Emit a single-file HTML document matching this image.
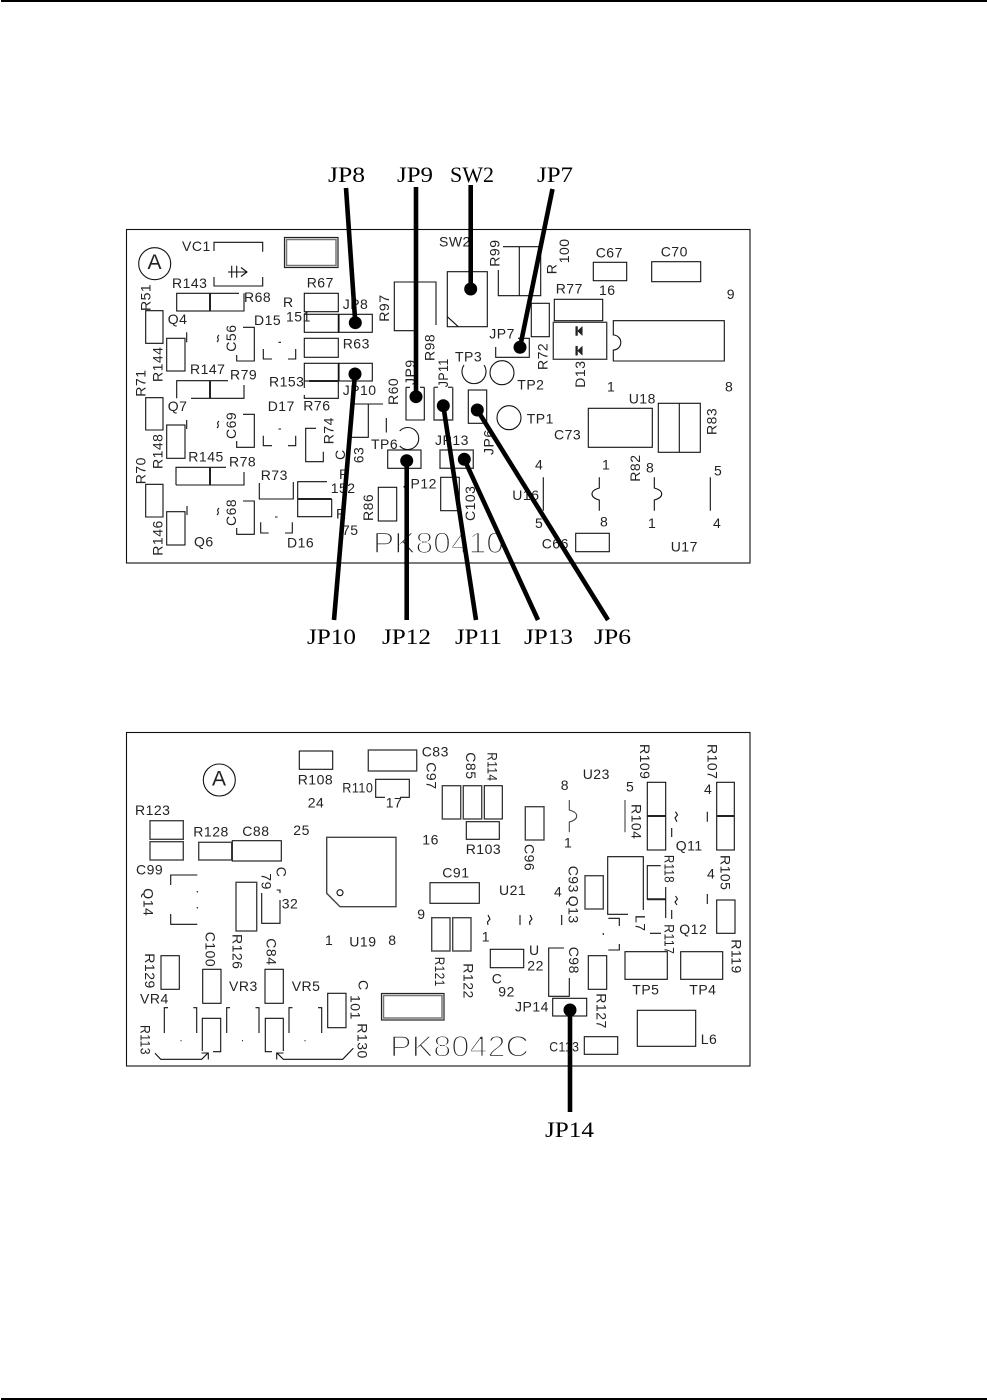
<!DOCTYPE html>
<html><head><meta charset="utf-8"><style>
html,body{margin:0;padding:0;background:#fff}
svg{display:block}
.c{fill:none;stroke:#111;stroke-width:1.1}
.g{fill:none;stroke:#444;stroke-width:1.4}
.t text{font-family:"Liberation Sans",sans-serif;font-size:14px;letter-spacing:.5px;fill:#222}
.s text{font-family:"Liberation Serif",serif;font-size:22px;fill:#000;font-weight:normal}
.b text{font-family:"Liberation Sans",sans-serif;font-size:30px;fill:#222;stroke:#fff;stroke-width:1.5}
.l{stroke:#000;stroke-width:4.6;fill:none}
</style></head><body>
<svg width="987" height="1400" viewBox="0 0 987 1400" xmlns="http://www.w3.org/2000/svg">
<rect x="1" y="0" width="986" height="2" fill="#000"/>
<rect x="1" y="1398" width="986" height="2" fill="#000"/>

<g class="b"><text x="373" y="553" textLength="131" lengthAdjust="spacingAndGlyphs">PK80410</text></g>
<g class="b"><text x="390" y="1056.7" textLength="139" lengthAdjust="spacingAndGlyphs">PK8042C</text></g>

<!-- ===== TOP BOARD ===== -->
<g class="c">
<rect x="126.5" y="229.5" width="623.5" height="333.5"/>
<circle cx="154.7" cy="263.7" r="16"/>
<path d="M214,251V242.3H262.7V251.7M214,277V286H262.7V277"/>
<path d="M231.7,265.7V277.7M236.7,265.7V277.7M228,272H247M241,267.5L247,272L241,276.5"/>
<rect x="176.7" y="293.3" width="33.3" height="17.7"/>
<path d="M210,293.3H239M210,311H244V293.3"/>
<path d="M155,310.7H145.7V343.3H163V310.7H155"/>
<rect x="166.7" y="338.3" width="18.3" height="32.7"/>
<path d="M186.7,332.3V342.3"/>
<path d="M243,327.3H254.3V361H236.7V355M219,335q-2,2 -1,3.5q1,1.5 -1,3.5"/>
<path d="M263.3,349V359H272M288,359H295.7V349M278.5,342.3H281"/>
<rect x="304.3" y="293.3" width="34" height="18.4"/>
<rect x="304.3" y="314.3" width="34" height="18"/>
<rect x="339" y="314.3" width="33.3" height="18"/>
<path d="M436,325V282H394.3V330.7H416"/>
<rect x="304.3" y="338.3" width="34" height="19"/>
<rect x="304.3" y="363.3" width="34" height="17.7"/>
<rect x="339" y="363.3" width="33.3" height="17.7"/>
<path d="M338.3,381V398.3H304.3V395M304.3,381V388"/>
<path d="M176.7,398.3V380.7H228M244,385V398.3H191"/>
<path d="M155,397.7H145.7V430H163V397.7H155"/>
<rect x="166.7" y="425" width="18.3" height="33.3"/>
<path d="M186.7,420V429"/>
<path d="M243,414.3H254.3V447.3H236.7V441M219,421q-2,2 -1,3.5q1,1.5 -1,3.5"/>
<path d="M263.3,435.7V445.7H272M288,445.7H295.7V435.7M278.5,429H281"/>
<path d="M316,428.3H305.7V461.7H323.3V451.7"/>
<path d="M353,404H383M368.3,404V437.3H350M386.3,418V432.5"/>
<path d="M399.7,431A11,11 0 1 1 399.7,446"/>
<rect x="387.7" y="450" width="33.3" height="18.3"/>
<path d="M176,485V467.3H226M244,472V485H176M210,467.3V485"/>
<path d="M155,484.3H145.7V517H163V484.3H155"/>
<rect x="166.7" y="511.7" width="18.3" height="33.3"/>
<path d="M187,506V515"/>
<path d="M243,501H254.3V534.3H236.7V528M219,508q-2,2 -1,3.5q1,1.5 -1,3.5"/>
<path d="M260.7,522.3V533H268.7M285,533H292.3V522.3M275,517H277.5"/>
<path d="M259.3,483V499H293.3V482"/>
<path d="M327,481.7H297.7V516.7H331.7V499"/>
<rect x="378.3" y="487.3" width="18.4" height="33.7"/>
<path d="M406,387.3V420H424.3V387.3M406,387.3H410M424.3,387.3H420"/>
<path class="g" d="M434,387.3V420H452.7V387.3M434,387.3H438M452.7,387.3H448"/>
<rect x="468.3" y="390" width="18.4" height="33.3"/>
<rect class="g" x="440" y="450" width="33.3" height="18.3"/>
<rect x="440.7" y="477.3" width="18.6" height="33.4"/>
<path d="M498.3,270V295.7H540.7V246.7H503M519.3,246.7V295.7"/>
<rect x="447.3" y="271.7" width="40" height="55"/>
<path d="M447.3,316.7L458.3,326.7"/>
<rect x="593.3" y="262.3" width="33.4" height="18.4"/>
<rect x="651.7" y="261.7" width="49" height="20"/>
<rect x="554.3" y="299.3" width="48.4" height="21.4"/>
<rect x="531.3" y="303.3" width="18" height="33.4"/>
<path d="M495.7,347V357.3H529.3V338.3H518"/>
<rect class="g" x="553.3" y="322.3" width="53.4" height="37"/>
<path d="M613.3,320.7H724.3V361H613.3V350A7.5,7.5 0 0 0 613.3,335Z"/>
<rect x="588.3" y="408.3" width="64" height="39"/>
<rect x="658.3" y="403.3" width="42" height="49"/>
<path d="M679.3,403.3V452.3"/>
<path d="M464,365A12,12 0 1 0 484,365"/>
<circle cx="502" cy="372.7" r="12"/>
<circle cx="509" cy="417.7" r="12"/>
<path d="M543.3,477.3V510.7M710.3,477.3V510.7"/>
<path d="M599.3,477.3V488Q592,490 592,494Q592,498 599.3,500V510.7"/>
<path d="M654.3,477.3V488Q661.7,490 661.7,494Q661.7,498 654.3,500V510.7"/>
<rect x="575.7" y="533.3" width="33.6" height="18.4"/>
</g>
<g fill="none" stroke="#222">
<rect x="284.5" y="237.5" width="53.5" height="30" stroke-width="1.2"/>
<rect x="286.5" y="239.5" width="49.5" height="26" stroke="#777" stroke-width="1.5"/>
<path d="M210,293.3V311M210,380.7V398.3M210,467.3V485" stroke-width="2"/>
<path d="M309,381H338.3M297.7,499H331.7" stroke-width="2"/>
</g>
<path d="M582.3,326.5V335.5L577.5,331ZM575.7,326.5H577.5V335.5H575.7ZM582.3,346.2V355.2L577.5,350.7ZM575.7,346.2H577.5V355.2H575.7Z" fill="#222" stroke="#222" stroke-width=".5"/>

<g class="t">
<text x="182" y="251">VC1</text><text x="172" y="288">R143</text><text x="244" y="302">R68</text>
<text transform="translate(150.7,311) rotate(-90)">R51</text>
<text x="167.7" y="324">Q4</text>
<text transform="translate(162.7,382) rotate(-90)">R144</text>
<text transform="translate(236,351.7) rotate(-90)">C56</text>
<text x="254" y="325">D15</text><text x="306.7" y="287.7">R67</text>
<text x="283" y="307">R</text><text x="286" y="321.7">151</text><text x="342.7" y="309">JP8</text>
<text transform="translate(389,321.7) rotate(-90)">R97</text>
<text transform="translate(434.3,361) rotate(-90)">R98</text>
<text x="342.7" y="348.3">R63</text><text x="269" y="386.7">R153</text><text x="342.7" y="395">JP10</text>
<text x="303.3" y="410.3">R76</text><text x="267.7" y="411">D17</text>
<text x="190" y="374">R147</text><text x="230" y="379.3">R79</text>
<text transform="translate(145.7,396.7) rotate(-90)">R71</text>
<text transform="translate(162.7,469) rotate(-90)">R148</text>
<text x="167.7" y="411">Q7</text>
<text transform="translate(236,439) rotate(-90)">C69</text>
<text transform="translate(333.3,444.3) rotate(-90)">R74</text>
<text transform="translate(398,405) rotate(-90)">R60</text>
<text x="371" y="449">TP6</text><text x="403" y="488.3">JP12</text>
<text transform="translate(363.3,463.3) rotate(-90)">63</text>
<text transform="translate(345,460) rotate(-90)">C</text>
<text x="339" y="479">R</text><text x="330.7" y="493">152</text>
<text x="336" y="518.3">R</text><text x="342" y="535">75</text>
<text x="188.3" y="461.7">R145</text><text x="229" y="466.7">R78</text>
<text transform="translate(145.7,484.3) rotate(-90)">R70</text>
<text transform="translate(162.7,555.7) rotate(-90)">R146</text>
<text x="194" y="546.7">Q6</text>
<text transform="translate(236,526) rotate(-90)">C68</text>
<text x="287" y="547.7">D16</text><text x="260.7" y="480">R73</text>
<text transform="translate(373,521) rotate(-90)">R86</text>
<text x="439" y="246.7">SW2</text>
<text transform="translate(499.3,266.7) rotate(-90)">R99</text>
<text transform="translate(569,263.3) rotate(-90)">100</text>
<text transform="translate(556.7,274.3) rotate(-90)">R</text>
<text x="595.7" y="257.7">C67</text><text x="660.7" y="256.7">C70</text>
<text x="599" y="295">16</text><text x="726.7" y="299">9</text><text x="555.7" y="293.3">R77</text>
<text transform="translate(547.3,370) rotate(-90)">R72</text>
<text x="489.3" y="338.3">JP7</text>
<text transform="translate(585,387.7) rotate(-90)">D13</text>
<text x="607" y="391.7">1</text><text x="725" y="391.7">8</text><text x="628.7" y="403.3">U18</text>
<text x="554" y="439.3">C73</text>
<text transform="translate(716.7,435) rotate(-90)">R83</text>
<text x="455" y="361.7">TP3</text><text x="517.3" y="389.3">TP2</text><text x="526.7" y="423.3">TP1</text>
<text transform="translate(448,387.3) rotate(-90)" textLength="29" lengthAdjust="spacingAndGlyphs">JP11</text>
<text transform="translate(415,385) rotate(-90)">JP9</text>
<text transform="translate(493.3,455) rotate(-90)">JP6</text>
<text x="435" y="445">JP13</text>
<text transform="translate(475,521) rotate(-90)">C103</text>
<text x="535" y="469.3">4</text><text x="512.3" y="500">U16</text><text x="535" y="528">5</text>
<text x="602" y="469.3">1</text><text x="600" y="526.7">8</text>
<text x="648" y="528">1</text><text x="646" y="472.3">8</text>
<text transform="translate(640,481.7) rotate(-90)">R82</text>
<text x="714" y="475.7">5</text><text x="713" y="528">4</text><text x="670.7" y="551.7">U17</text>
<text x="541.7" y="548.3">C66</text>
<text x="147.5" y="269" style="font-size:21px;letter-spacing:0">A</text>
</g>

<!-- top leaders -->
<g class="l">
<path d="M346,188L355.3,322.7"/><path d="M416,187V396.7"/><path d="M470.7,185V289"/><path d="M552.5,189L520,347.3"/>
<path d="M355,374L334,620"/><path d="M406.7,460.7V620"/><path d="M443.3,405.7L476,620"/><path d="M464.3,459.3L538,620"/><path d="M477.3,410L608,620"/>
</g>
<g fill="#000">
<circle cx="355.3" cy="322.7" r="6.5"/><circle cx="416" cy="396.7" r="6.5"/><circle cx="470.7" cy="289" r="6.5"/><circle cx="520" cy="347.3" r="6.5"/>
<circle cx="355" cy="374" r="6.5"/><circle cx="406.7" cy="460.7" r="6.5"/><circle cx="443.3" cy="405.7" r="6.5"/><circle cx="464.3" cy="459.3" r="6.5"/><circle cx="477.3" cy="410" r="6.5"/>
</g>
<g class="s">
<text x="328" y="182" textLength="37" lengthAdjust="spacingAndGlyphs">JP8</text>
<text x="397" y="182" textLength="36" lengthAdjust="spacingAndGlyphs">JP9</text>
<text x="450" y="182" textLength="44" lengthAdjust="spacingAndGlyphs">SW2</text>
<text x="537" y="182" textLength="36" lengthAdjust="spacingAndGlyphs">JP7</text>
<text x="307" y="644" textLength="49" lengthAdjust="spacingAndGlyphs">JP10</text>
<text x="382" y="644" textLength="49" lengthAdjust="spacingAndGlyphs">JP12</text>
<text x="455" y="644" textLength="47" lengthAdjust="spacingAndGlyphs">JP11</text>
<text x="524" y="644" textLength="49" lengthAdjust="spacingAndGlyphs">JP13</text>
<text x="594" y="644" textLength="37" lengthAdjust="spacingAndGlyphs">JP6</text>
<text x="545" y="1137" textLength="49" lengthAdjust="spacingAndGlyphs">JP14</text>
</g>

<!-- ===== BOTTOM BOARD ===== -->
<g class="c">
<rect x="126.5" y="732.5" width="623.5" height="333.5"/>
<circle cx="219.3" cy="780" r="16"/>
<rect x="299.3" y="751" width="33.4" height="18.3"/>
<rect class="g" x="368.3" y="750" width="48.4" height="21"/>
<path d="M385,797.3H375.7V779.3H409.3V797.3H400"/>
<rect class="g" x="150" y="820.7" width="33.3" height="18.6"/>
<rect class="g" x="150" y="841.7" width="33.3" height="18.3"/>
<rect class="g" x="198.7" y="842.3" width="33" height="17.7"/>
<rect x="232.3" y="840.7" width="49" height="20.3"/>
<path class="g" d="M326.7,837.3H396V906.7H340L326.7,893.3Z"/>
<circle cx="340" cy="892.7" r="3"/>
<path d="M170.7,885V875H197.3M170.7,914V924.3H197.3M197.3,891V892.5M197.3,907V908.5"/>
<rect class="g" x="236" y="882.3" width="20.7" height="48.7"/>
<path d="M261.7,893V923.3H280V900M276.7,890H280V893"/>
<rect x="202.7" y="969.3" width="18.3" height="34"/>
<rect x="161" y="955.7" width="18.3" height="33.6"/>
<rect x="265" y="969.3" width="18.3" height="34"/>
<rect x="327.7" y="993.3" width="18.3" height="34.4"/>
<path d="M164.3,1033V1007.7H168M196.7,1033V1007.7H193.3M180.5,1040.7H181.5"/>
<path d="M226.7,1033V1007.7H230M259,1033V1007.7H255.5M242,1040.7H243"/>
<path d="M289,1033V1007.7H292.5M321.7,1033V1007.7H318M304.5,1040.7H305.5"/>
<path d="M213,1051.7H220.7V1018.3H202.3V1051"/>
<path d="M272,1051.7H265.3V1018.3H283.3V1051"/>
<path d="M155,1053.3L160.7,1059.3H201.7L208.3,1052.7M201.5,1053H208.3V1059.5"/>
<path d="M353.3,1048.3L342.7,1059.3H283.3L276.7,1052.7M283.5,1053H276.7V1059.5"/>
<rect class="g" x="442.3" y="785.7" width="18.4" height="33.3"/>
<rect class="g" x="463.3" y="785.7" width="18.4" height="33.3"/>
<rect x="484.3" y="785.7" width="18" height="33.3"/>
<rect x="466.3" y="821.7" width="33" height="17.6"/>
<rect class="g" x="525.3" y="806.7" width="18.7" height="33.3"/>
<path d="M569.3,800V810Q576.7,812 576.7,816Q576.7,820 569.3,822V832.3M625,800V832.3" stroke="#444"/>
<rect x="647.3" y="782.3" width="18.4" height="67.7"/>
<rect x="716.7" y="782.3" width="17.6" height="67.7"/>
<path d="M675.5,811.7L677.5,815L675,818L677,821.7M671.7,828V837M707.3,811.7V821.7"/>
<rect x="430" y="882.7" width="49.3" height="20.6"/>
<rect class="g" x="585" y="875.7" width="18.3" height="33.3"/>
<path d="M628,914.3H607.7V856.7H643.3V910"/>
<path d="M660.7,865.7H647.3V899.3H665.7V887M665.7,899.3V918M650,933.3H661M675.5,896L677.5,899L675,902L677,905M671.7,910V919M707.3,894V904"/>
<rect x="716.7" y="900" width="18.3" height="33.3"/>
<path d="M625,951.7H667.3V979.3H625Z"/>
<rect x="680.7" y="951.7" width="42" height="27.6"/>
<rect x="637.3" y="1010.3" width="58.4" height="36"/>
<path d="M608.3,918.3H619.3V926M608.3,950H619.3V944M603.3,933V935"/>
<path d="M564,948H548.7V996.3H569.3V978"/>
<rect x="588.3" y="955.7" width="18.4" height="33.6"/>
<rect x="552.7" y="998.3" width="34" height="17.7"/>
<rect x="584.3" y="1036.7" width="33.4" height="17.6"/>
<rect x="490.3" y="949.3" width="33.4" height="18.4"/>
<rect class="g" x="431.7" y="917.7" width="18.3" height="33.3"/>
<rect class="g" x="452.7" y="917.7" width="18.3" height="33.3"/>
<path d="M488,915L490,919L487.5,922L488,925M520,915V925M530,915L532,919L529.5,922L530,925M561.7,915V925"/>
</g>
<g fill="none" stroke="#222">
<rect x="381.5" y="993.5" width="62.5" height="26.5" stroke-width="1.2"/>
<rect x="383.5" y="995.5" width="58.5" height="22.5" stroke="#777" stroke-width="1.5"/>
<path d="M647.3,816H665.7M716.7,816H734.3M647.3,899.3H665.7" stroke-width="2"/>
</g>

<g class="t">
<text x="297.7" y="784.3">R108</text><text x="421.7" y="756.7">C83</text><text x="342.3" y="792.3" textLength="31" lengthAdjust="spacingAndGlyphs">R110</text>
<text x="385.7" y="807.3">17</text><text x="307.7" y="807.7">24</text><text x="135" y="815">R123</text>
<text x="193.3" y="836.7">R128</text><text x="242.3" y="836">C88</text><text x="293.3" y="835">25</text>
<text x="422.3" y="844.3">16</text><text x="136" y="874.3">C99</text><text x="281.7" y="908.3">32</text>
<text x="417.3" y="919">9</text>
<text x="325" y="945">1</text><text x="349.3" y="946.7">U19</text><text x="388.3" y="945">8</text>
<text x="140" y="1003.3">VR4</text><text x="229" y="991">VR3</text><text x="291.7" y="991">VR5</text>
<text transform="translate(143.3,888.3) rotate(90)">Q14</text>
<text transform="translate(232.3,934) rotate(90)">R126</text>
<text transform="translate(276.7,866.7) rotate(90)">C</text>
<text transform="translate(261.7,873.3) rotate(90)">79</text>
<text transform="translate(205.7,931.7) rotate(90)">C100</text>
<text transform="translate(145,953.3) rotate(90)">R129</text>
<text transform="translate(266.7,938.3) rotate(90)">C84</text>
<text transform="translate(358.3,980) rotate(90)">C</text>
<text transform="translate(350.7,995) rotate(90)">101</text>
<text transform="translate(140.7,1025) rotate(90)" textLength="30" lengthAdjust="spacingAndGlyphs">R113</text>
<text transform="translate(357.7,1023.3) rotate(90)">R130</text>
<text transform="translate(426.7,762.3) rotate(90)">C97</text>
<text transform="translate(466,752.3) rotate(90)">C85</text>
<text transform="translate(487.3,752.3) rotate(90)" textLength="29" lengthAdjust="spacingAndGlyphs">R114</text>
<text x="465.7" y="854">R103</text>
<text transform="translate(524.3,844) rotate(90)">C96</text>
<text x="582.7" y="779">U23</text><text x="560.7" y="790">8</text><text x="564" y="847.7">1</text><text x="626" y="791.7">5</text>
<text transform="translate(631.7,804) rotate(90)">R104</text>
<text transform="translate(640,744) rotate(90)">R109</text>
<text x="675.7" y="850.7">Q11</text>
<text transform="translate(707.3,744) rotate(90)">R107</text>
<text x="704" y="794">4</text>
<text x="442.3" y="877.7">C91</text><text x="499" y="895">U21</text><text x="554" y="896.7">4</text>
<text transform="translate(568.3,865.7) rotate(90)">C93</text>
<text transform="translate(568.3,895.7) rotate(90)">Q13</text>
<text transform="translate(635.7,915) rotate(90)">L7</text>
<text transform="translate(664.3,855) rotate(90)" textLength="28" lengthAdjust="spacingAndGlyphs">R118</text>
<text transform="translate(664.3,924.3) rotate(90)" textLength="30" lengthAdjust="spacingAndGlyphs">R117</text>
<text x="679.3" y="934">Q12</text>
<text transform="translate(720.7,855) rotate(90)">R105</text>
<text x="707" y="878.3">4</text>
<text transform="translate(731.7,939.3) rotate(90)">R119</text>
<text x="632.3" y="994.3">TP5</text><text x="689.3" y="994.3">TP4</text><text x="700.7" y="1044">L6</text>
<text transform="translate(569,946.7) rotate(90)">C98</text>
<text transform="translate(596.7,993.3) rotate(90)">R127</text>
<text x="515" y="1011.7">JP14</text><text x="549.3" y="1051.7" textLength="30" lengthAdjust="spacingAndGlyphs">C113</text>
<text x="491.7" y="983.3">C</text><text x="498.3" y="996.7">92</text>
<text x="529" y="955">U</text><text x="527.3" y="970.7">22</text>
<text transform="translate(435,956.7) rotate(90)" textLength="30" lengthAdjust="spacingAndGlyphs">R121</text>
<text transform="translate(463.3,963.3) rotate(90)">R122</text>
<text x="481.7" y="941.7">1</text>
<text x="212" y="785.5" style="font-size:21px;letter-spacing:0">A</text>
</g>

<path class="l" d="M570,1010V1112"/>
<circle cx="570" cy="1010" r="6.5" fill="#000"/>
</svg>
</body></html>
